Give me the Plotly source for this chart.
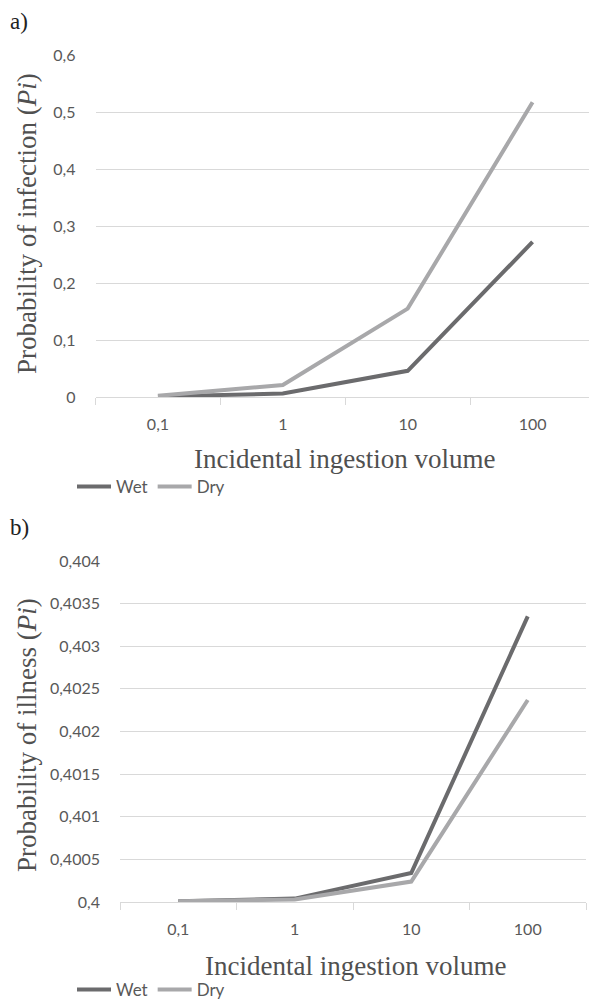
import plotly.graph_objects as go

categories = ["0,1", "1", "10", "100"]
wet_infection = [0.001, 0.006, 0.046, 0.272]
dry_infection = [0.002, 0.021, 0.155, 0.517]
wet_illness = [0.40001, 0.40004, 0.40034, 0.40335]
dry_illness = [0.40001, 0.40003, 0.40024, 0.40237]
ticks_a = [0, 0.1, 0.2, 0.3, 0.4, 0.5, 0.6]
ticklabels_a = ["0", "0,1", "0,2", "0,3", "0,4", "0,5", "0,6"]
ticks_b = [0.4, 0.4005, 0.401, 0.4015, 0.402, 0.4025, 0.403, 0.4035, 0.404]
ticklabels_b = ["0,4", "0,4005", "0,401", "0,4015", "0,402", "0,4025", "0,403", "0,4035", "0,404"]

WET = "#6b6b6d"
DRY = "#a8a8aa"
GRID = "#d9d9d9"
TICKC = "#595959"
TITLEC = "#505050"
SANS = "Lato"
SERIF = "Liberation Serif"

H = 1003.0
W = 597.0
OFF = 8  # page body margin offset


def px(x):
    return (x - OFF) / W


def py(y):
    return 1 - (y - OFF) / H


fig = go.Figure()
fig.add_trace(go.Scatter(x=categories, y=wet_infection, name="Wet", mode="lines",
                         line=dict(color=WET, width=4), xaxis="x", yaxis="y", legend="legend"))
fig.add_trace(go.Scatter(x=categories, y=dry_infection, name="Dry", mode="lines",
                         line=dict(color=DRY, width=4), xaxis="x", yaxis="y", legend="legend"))
fig.add_trace(go.Scatter(x=categories, y=wet_illness, name="Wet", mode="lines",
                         line=dict(color=WET, width=4), xaxis="x2", yaxis="y2", legend="legend2"))
fig.add_trace(go.Scatter(x=categories, y=dry_illness, name="Dry", mode="lines",
                         line=dict(color=DRY, width=4), xaxis="x2", yaxis="y2", legend="legend2"))

xcommon = dict(type="category", range=[-0.5, 3.5], showgrid=False, showline=True, linecolor=GRID, linewidth=1,
               ticks="outside", tickson="boundaries", ticklen=7, tickcolor=GRID, ticklabelstandoff=13,
               tickfont=dict(family=SANS, size=16, color=TICKC), zeroline=False, automargin=False)
ycommon = dict(showgrid=True, gridcolor=GRID, gridwidth=1, showline=False, ticks="", ticklabelstandoff=19,
               tickfont=dict(family=SANS, size=16, color=TICKC), zeroline=False, automargin=False)

legfont = dict(family=SANS, size=17, color=TICKC)
fig.update_layout(
    width=597, height=1003, margin=dict(l=0, r=0, t=0, b=0, autoexpand=False),
    plot_bgcolor="white", paper_bgcolor="white",
    xaxis=dict(domain=[px(95.5), px(595)], anchor="y", **xcommon),
    yaxis=dict(domain=[py(397), py(55)], range=[0, 0.6], anchor="x",
               tickvals=ticks_a, ticktext=ticklabels_a, **ycommon),
    xaxis2=dict(domain=[px(120), px(586)], anchor="y2", **xcommon),
    yaxis2=dict(domain=[py(902), py(561)], range=[0.4, 0.404], anchor="x2",
                tickvals=ticks_b, ticktext=ticklabels_b, **ycommon),
    legend=dict(orientation="h", x=px(72), y=py(487), xanchor="left", yanchor="middle",
                font=legfont, itemwidth=34, bgcolor="rgba(0,0,0,0)", tracegroupgap=0),
    legend2=dict(orientation="h", x=px(72), y=py(990), xanchor="left", yanchor="middle",
                 font=legfont, itemwidth=34, bgcolor="rgba(0,0,0,0)", tracegroupgap=0),
    showlegend=True,
)

ann = [
    dict(text="a)", x=px(8), y=py(22), xanchor="left", yanchor="middle", font=dict(family=SERIF, size=23, color="#222")),
    dict(text="b)", x=px(8), y=py(527), xanchor="left", yanchor="middle", font=dict(family=SERIF, size=23, color="#222")),
    dict(text="Incidental ingestion volume", x=px(344), y=py(459), xanchor="center", yanchor="middle",
         font=dict(family=SERIF, size=27, color=TITLEC)),
    dict(text="Incidental ingestion volume", x=px(355), y=py(966), xanchor="center", yanchor="middle",
         font=dict(family=SERIF, size=27, color=TITLEC)),
    dict(text="Probability of infection (<i>Pi</i>)", x=px(27), y=py(224), xanchor="center", yanchor="middle",
         textangle=-90, font=dict(family=SERIF, size=27, color=TITLEC)),
    dict(text="Probability of illness (<i>Pi</i>)", x=px(27), y=py(735), xanchor="center", yanchor="middle",
         textangle=-90, font=dict(family=SERIF, size=27, color=TITLEC)),
]
for a in ann:
    a.update(xref="paper", yref="paper", showarrow=False)
fig.update_layout(annotations=ann)

fig.write_html("out.html")
